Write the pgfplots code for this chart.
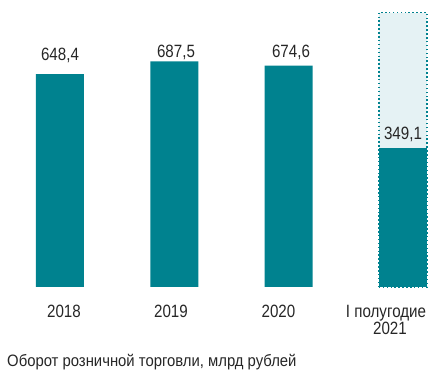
\documentclass[border=0pt]{standalone}
\usepackage{pgfplots}
\pgfplotsset{compat=1.18}
\usepackage{fontspec}
\setmainfont{Liberation Sans}[FakeStretch=0.85]
\newfontfamily\titlefont{Liberation Sans}[FakeStretch=0.9]
\definecolor{teal1}{RGB}{0,130,143}
\definecolor{boxfill}{RGB}{229,242,244}
\definecolor{txt}{RGB}{38,38,38}
\begin{document}
\begin{tikzpicture}[x=1pt,y=1pt]
\useasboundingbox (0pt,0pt) rectangle (440pt,377pt);
\pgfplotsset{base/.style={at={(0pt,90pt)}, anchor=south west, scale only axis,
  width=440pt, height=287pt, xmin=-0.525, xmax=3.3255, ymin=0, hide axis, clip=false}}
\begin{axis}[base, ymax=874.2]
\addplot[ybar, bar width=48pt, bar shift=0pt, fill=teal1, draw=none]
  coordinates {(0,648.4) (1,687.5) (2,674.6)};
\end{axis}
\begin{axis}[base, ymax=722.4]
\addplot[ybar, bar width=48pt, bar shift=0pt, fill=boxfill, draw=none]
  coordinates {(3,690.7)};
\addplot[ybar, bar width=48pt, bar shift=0pt, fill=teal1, draw=none]
  coordinates {(3,349.1)};
\addplot[ybar, bar width=48pt, bar shift=0pt, fill=none, draw=teal1,
  line width=1.5pt, dash pattern=on 1.5pt off 2.4pt]
  coordinates {(3,690.7)};
\end{axis}
\begin{scope}[every node/.style={inner sep=0pt, text=txt, font=\fontsize{17.8}{20}\selectfont}]
\node[anchor=base] at (60pt,316.5pt) {648,4};
\node[anchor=base] at (176pt,319pt) {687,5};
\node[anchor=base] at (291pt,319.5pt) {674,6};
\node[anchor=base] at (403pt,237pt) {349,1};
\node[anchor=base] at (64pt,59.5pt) {2018};
\node[anchor=base] at (171pt,59.5pt) {2019};
\node[anchor=base] at (278.5pt,59.5pt) {2020};
\node[anchor=base] at (386pt,59.5pt) {I полугодие};
\node[anchor=base] at (390pt,42pt) {2021};
\node[anchor=base west,font=\titlefont\fontsize{16.5}{18}\selectfont] at (7pt,10.5pt) {Оборот розничной торговли, млрд рублей};
\end{scope}
\end{tikzpicture}
\end{document}
